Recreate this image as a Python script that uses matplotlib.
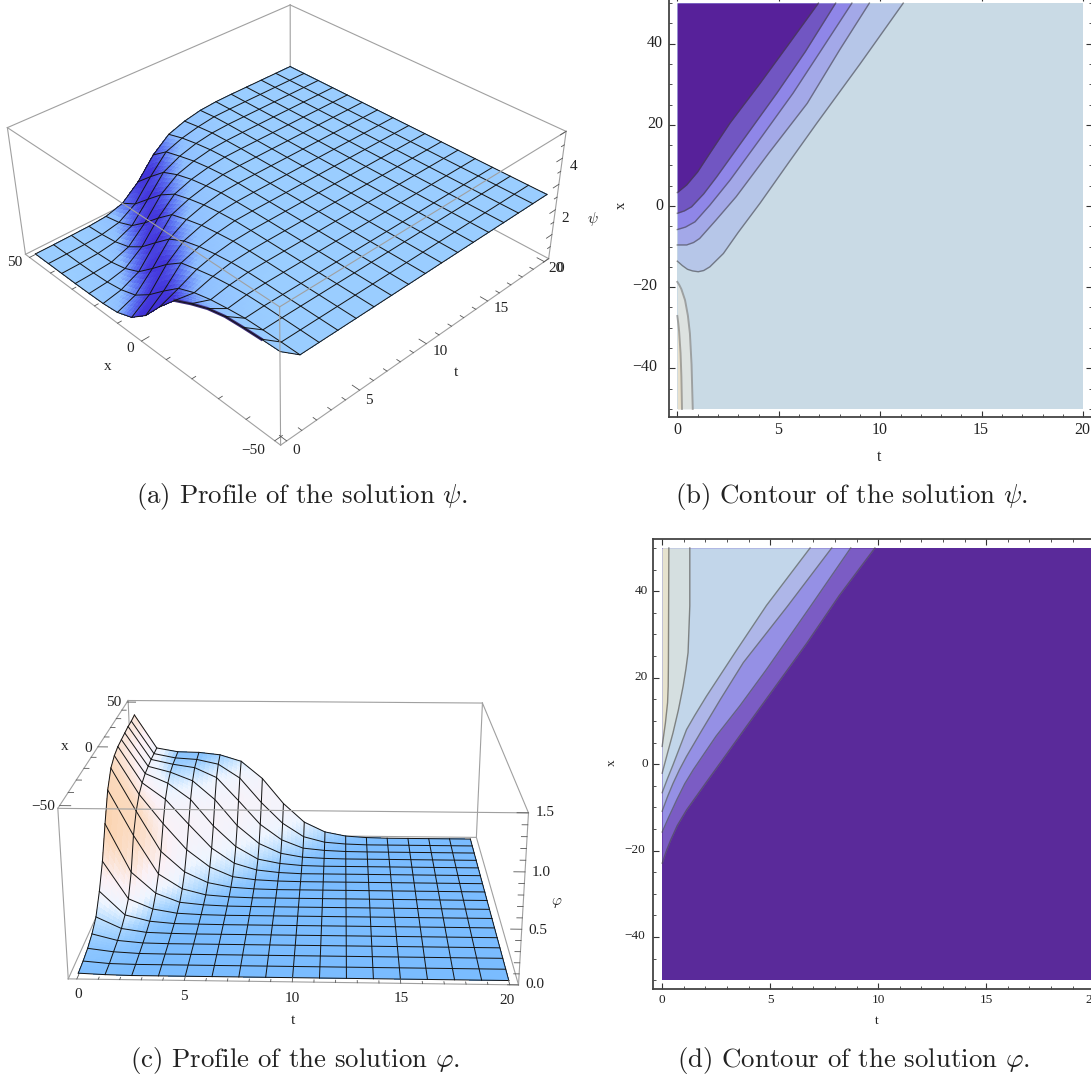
import numpy as np
import matplotlib
matplotlib.use("Agg")
import matplotlib.pyplot as plt
from matplotlib.colors import LinearSegmentedColormap

W, H = 1091, 1078
t_nodes = [1.25 * i for i in range(17)]
x_nodes = [-50 + 6.25 * i for i in range(17)]

psi_rows = [
 [3.05,3.03,3.0,2.95,2.8,2.55,2.25,1.6,.85,.35,.12,.05,.03,.02,.02,.02,.02],
 [2.5,2.5,2.49,2.47,2.39,2.29,2.13,1.88,1.37,.82,.39,.19,.09,.05,.03,.03,.02],
 [2.5,2.5,2.5,2.5,2.48,2.42,2.33,2.19,2.03,1.58,1.03,.51,.24,.1,.06,.04,.03],
 [2.5,2.5,2.5,2.5,2.5,2.49,2.45,2.37,2.26,2.09,1.78,1.26,.72,.34,.16,.08,.04],
 [2.5,2.5,2.5,2.5,2.5,2.5,2.49,2.47,2.4,2.31,2.16,1.98,1.48,.93,.45,.21,.09],
 [2.5,2.5,2.5,2.5,2.5,2.5,2.5,2.5,2.49,2.44,2.36,2.23,2.06,1.68,1.15,.61,.28],
 [2.5,2.5,2.5,2.5,2.5,2.5,2.5,2.5,2.5,2.49,2.47,2.39,2.29,2.13,1.88,1.37,.82],
 [2.5,2.5,2.5,2.5,2.5,2.5,2.5,2.5,2.5,2.5,2.5,2.48,2.42,2.33,2.19,2.03,1.58],
 [2.5,2.5,2.5,2.5,2.5,2.5,2.5,2.5,2.5,2.5,2.5,2.5,2.49,2.45,2.37,2.26,2.09],
 [2.5,2.5,2.5,2.5,2.5,2.5,2.5,2.5,2.5,2.5,2.5,2.5,2.5,2.49,2.47,2.4,2.31],
 [2.5,2.5,2.5,2.5,2.5,2.5,2.5,2.5,2.5,2.5,2.5,2.5,2.5,2.5,2.5,2.49,2.44],
 [2.5,2.5,2.5,2.5,2.5,2.5,2.5,2.5,2.5,2.5,2.5,2.5,2.5,2.5,2.5,2.5,2.49],
 [2.5]*17, [2.5]*17, [2.5]*17, [2.5]*17, [2.5]*17,
]
phi_rows = [
 [.02,.03,.05,.09,.16,.32,.53,.82,1.08,1.23,1.29,1.32,1.33,1.34,1.35,1.35,1.36],
 [.01,.01,.02,.03,.05,.09,.16,.34,.63,.8,.9,.95,.98,.99,1.0,1.0,1.0],
 [.005,.005,.007,.009,.015,.03,.06,.13,.24,.39,.6,.78,.88,.93,.95,.955,.96],
 [.005,.005,.005,.005,.008,.01,.02,.04,.09,.18,.33,.52,.71,.84,.915,.94,.955],
 [.005,.005,.005,.005,.005,.007,.009,.017,.03,.07,.15,.27,.43,.64,.81,.89,.93],
 [.005,.005,.005,.005,.005,.005,.005,.007,.012,.025,.05,.11,.21,.36,.56,.74,.86],
 [.005,.005,.005,.005,.005,.005,.005,.005,.005,.01,.02,.04,.075,.165,.3,.47,.67],
 [.005,.005,.005,.005,.005,.005,.005,.005,.005,.005,.009,.015,.03,.06,.13,.24,.39],
 [.005,.005,.005,.005,.005,.005,.005,.005,.005,.005,.005,.005,.01,.02,.04,.09,.18],
 [.005,.005,.005,.005,.005,.005,.005,.005,.005,.005,.005,.005,.005,.009,.017,.03,.07],
 [.005,.005,.005,.005,.005,.005,.005,.005,.005,.005,.005,.005,.005,.005,.007,.012,.025],
 [.005]*16 + [.01],
 [.005]*17, [.005]*17, [.005]*17, [.005]*17, [.005]*17,
]

# contour curves of panel (b): (t, x)
b_c1_t = [0,.46,1,1.6,2.6,4.07,5.5,6.95];            b_c1_x = [3.3,5.2,8.4,13,20.5,30.2,40,50]
b_c2_t = [0,.35,.7,1.3,1.94,3.2,4.9,6.3,7.8];        b_c2_x = [-1.8,-1.2,-.2,3,7.2,16,27.8,38,50]
b_c3_t = [0,.4,.87,1.6,2.6,4,5.7,7.1,8.6];           b_c3_x = [-5.8,-5.2,-3.9,.2,6.4,16,27.8,38.5,50]
b_c4_t = [0,.46,.8,1.1,1.9,2.9,4.5,6.4,8,9.46];      b_c4_x = [-9.6,-9.6,-9,-8,-3.5,2.3,13,25.3,38.5,50]
b_c5_t = [0,.25,.5,.75,1.03,1.3,1.6,2.27,3,4.07,5.5,6.87,9,11.13]
b_c5_x = [-13.6,-14.7,-15.6,-16,-16.2,-15.9,-15,-11.7,-6.5,.66,10.8,20.4,35,50]
b_c6_t = [0,.1,.2,.38,.52,.62,.7,.76];               b_c6_x = [-18.7,-19.5,-20.5,-23.2,-27,-31.4,-39,-50]
b_c7_t = [0,.05,.09,.16,.2,.23];                     b_c7_x = [-27.1,-29,-31,-36.3,-42,-50]
# contour curves of panel (d): (t, x)
d_a_t = [0,.08,.15,.25,.28,.29,.31];                 d_a_x = [4.1,7,9.5,14.2,18,23.5,50]
d_b_t = [0,.25,.5,.75,.97,1.1,1.2,1.28,1.28];        d_b_x = [-2.1,2.6,7.2,12.5,18,22,25.8,36.6,50]
d_c_t = [0,.25,.5,.8,1.13,1.5,2.05,3.4,4.83,6.85];   d_c_x = [-6.6,-3.3,-.2,3.7,8,11.2,15.7,26,36.7,50]
d_d_t = [0,.25,.5,.8,1.13,1.8,2.7,3.76,5.8,7.85];    d_d_x = [-10.9,-7.5,-4.5,-1.3,1.8,7.5,15,23.5,36.5,50]
d_e_t = [0,.3,.7,1.05,1.44,2.5,3.6,4.83,6.8,8.73];   d_e_x = [-15.7,-12.3,-8,-4.5,-1.3,6.5,13.5,21.9,36,50]
d_f_t = [0,.2,.4,.7,1.13,2,3.9,6.7,8.2,9.85];        d_f_x = [-22.9,-20,-17.5,-14.2,-10.6,-4.5,8.7,28,39,50]

plt.rcParams['mathtext.fontset'] = 'cm'
fig = plt.figure(figsize=(W/100, H/100), dpi=100)
fig.patch.set_facecolor('white')

def rect(l, t, r, b):
    return [l/W, 1-b/H, (r-l)/W, (b-t)/H]

def label(x, y, s, size=11, rot=0, fam='Liberation Serif', **kw):
    fig.text(x/W, 1-y/H, s, fontsize=size, rotation=rot, family=fam,
             ha='center', va='center', color='#222222', **kw)

def setup(ax, p):
    el, az, ro, f, ay, az_, cx, cy, s = p
    ax.set_position(rect(cx-s/2, cy-s/2, cx+s/2, cy+s/2))
    ax.view_init(el, az, ro)
    ax.set_proj_type('persp', focal_length=f)
    ax.set_box_aspect((1, ay, az_))

def refine(A, n=5):
    A = np.asarray(A, float)
    u = np.linspace(0, A.shape[0]-1, (A.shape[0]-1)*n+1)
    v = np.linspace(0, A.shape[1]-1, (A.shape[1]-1)*n+1)
    B = np.array([np.interp(u, np.arange(A.shape[0]), A[:, j]) for j in range(A.shape[1])]).T
    return np.array([np.interp(v, np.arange(A.shape[1]), r) for r in B])

def box_edges(ax, tl, xl, zl, under):
    t0, t1 = tl; x0, x1 = xl; z0, z1 = zl
    c = {(a,b,d): (t1 if a else t0, x1 if b else x0, z1 if d else z0) for a in (0,1) for b in (0,1) for d in (0,1)}
    edges = []
    for a in (0,1):
        for b in (0,1):
            edges += [((a,b,0),(a,b,1)), ((a,0,b),(a,1,b)), ((0,a,b),(1,a,b))]
    for e in edges:
        zo = 1 if e in under else 6
        P, Q = c[e[0]], c[e[1]]
        ax.plot3D([P[0],Q[0]],[P[1],Q[1]],[P[2],Q[2]], color='#a0a0a0', lw=.8, zorder=zo, clip_on=False)

def surface(ax, Z, cmap, slope, vmax):
    T, X = np.meshgrid(t_nodes, x_nodes, indexing='ij')
    Tf, Xf, Zf, Sf = refine(T), refine(X), refine(Z), refine(slope)
    cols = cmap(np.clip(Sf/vmax, 0, 1))
    ax.plot_surface(Tf, Xf, Zf, facecolors=cols, rstride=1, cstride=1,
                    shade=False, linewidth=0, antialiased=False, zorder=3)
    Z = np.asarray(Z)
    for i in range(17):
        ax.plot3D(t_nodes, [x_nodes[i]]*17, Z[:, i], color='#151515', lw=.72, zorder=5, clip_on=False)
        ax.plot3D([t_nodes[i]]*17, x_nodes, Z[i, :], color='#151515', lw=.72, zorder=5, clip_on=False)

def ticks3d(ax, base, dirv, vals, axis, ln):
    for v in vals:
        P = list(base); P[axis] = v
        Q = [P[k] + dirv[k]*ln for k in range(3)]
        ax.plot3D([P[0],Q[0]],[P[1],Q[1]],[P[2],Q[2]], color='#555555', lw=.6, zorder=7, clip_on=False)

# ---- panel (a)
tb = (-.4, 20.4); xb = (-52, 52)
axa = fig.add_axes(rect(0,0,600,600), projection='3d', computed_zorder=False)
axa.set_axis_off()
axa.set_xlim(*tb, view_margin=0); axa.set_ylim(*xb, view_margin=0); axa.set_zlim(0, 5, view_margin=0)
setup(axa, [34.387,-133.882,0.187,0.447,0.999,0.402,278.672,202.441,545.451])
Z = np.array(psi_rows)*1.04
slope_a = np.abs(np.gradient(Z, 6.25, axis=1))
cm_a = LinearSegmentedColormap.from_list('a', ['#9ACDFF','#8FBFFF','#5F78F2','#4438DD','#4030D5'])
surface(axa, Z, cm_a, slope_a, .11)
axa.plot3D([0]*6, x_nodes[1:7], Z[0,1:7], color='#3B2A78', lw=2.2, zorder=4, clip_on=False)
box_edges(axa, tb, xb, (0,5), [((1,1,0),(1,1,1)),((0,1,0),(1,1,0)),((1,0,0),(1,1,0))])
ticks3d(axa, (tb[0],0,0),(1,0,0), [-50,0,50], 1, .5)
ticks3d(axa, (tb[0],0,0),(1,0,0), [-40,-30,-20,-10,10,20,30,40], 1, .25)
ticks3d(axa, (0,xb[0],0),(0,1,0), [0,5,10,15,20], 0, 2.5)
ticks3d(axa, (0,xb[0],0),(0,1,0), [1,2,3,4,6,7,8,9,11,12,13,14,16,17,18,19], 0, 1.2)
ticks3d(axa, (tb[1],xb[0],0),(-1,0,0), [0,1,2,3,4,5], 2, .5)
ticks3d(axa, (tb[1],xb[0],0),(-1,0,0), [.5,1.5,2.5,3.5,4.5], 2, .25)

# ---- panel (c)
axc = fig.add_axes(rect(0,500,600,1100), projection='3d', computed_zorder=False)
axc.set_axis_off()
axc.set_xlim(*tb, view_margin=0); axc.set_ylim(*xb, view_margin=0); axc.set_zlim(0, 1.5, view_margin=0)
setup(axc, [18.753,-88.217,0.006,0.440,0.987,0.400,291.558,832.699,562.658])
Z2 = np.array(phi_rows)
slope_c = np.abs(np.gradient(Z2, 1.25, axis=0))
cm_c = LinearSegmentedColormap.from_list('c', [(0,'#7ABCFF'),(.15,'#B8DDFF'),(.3,'#EEF5FF'),(.5,'#FBF1F6'),(.75,'#FBD9BC'),(1,'#F8C99C')])
surface(axc, Z2, cm_c, slope_c, .46)
box_edges(axc, tb, xb, (0,1.5), [((0,1,0),(0,1,1)),((0,1,0),(1,1,0)),((0,0,0),(0,1,0))])
ticks3d(axc, (0,xb[0],0),(0,1,0), [0,5,10,15,20], 0, 2.5)
ticks3d(axc, (0,xb[0],0),(0,1,0), [1,2,3,4,6,7,8,9,11,12,13,14,16,17,18,19], 0, 1.2)
ticks3d(axc, (tb[0],0,1.5),(1,0,0), [-50,0,50], 1, .5)
ticks3d(axc, (tb[0],0,1.5),(1,0,0), [-40,-30,-20,-10,10,20,30,40], 1, .25)
ticks3d(axc, (tb[1],xb[0],0),(-1,0,0), [0,.5,1,1.5], 2, .5)
ticks3d(axc, (tb[1],xb[0],0),(-1,0,0), [.1,.2,.3,.4,.6,.7,.8,.9,1.1,1.2,1.3,1.4], 2, .25)

# ---- contour panels
def contour_axes(r):
    ax = fig.add_axes(rect(*r))
    ax.set_xlim(-.41, 20.41); ax.set_ylim(-52, 52)
    ax.set_xticks([0,5,10,15,20]); ax.set_yticks([-40,-20,0,20,40])
    ax.set_xticks(range(1,20), minor=True); ax.set_yticks(range(-50,51,5), minor=True)
    ax.set_xticklabels([]); ax.set_yticklabels([])
    ax.tick_params(which='major', direction='in', length=4, width=.8, top=True, right=True, color='#333333')
    ax.tick_params(which='minor', direction='in', length=2.2, width=.6, top=True, right=True, color='#333333')
    for s in ax.spines.values():
        s.set_color('#444444'); s.set_linewidth(1.3)
    return ax

def band(ax, t, x, to, col, lc='#44444499', lw=1.0):
    ax.fill_between(t, x, to, color=col, lw=0, zorder=2)
    ax.plot(t, x, color=lc, lw=lw, zorder=3)

axb = contour_axes((669,-5,1091.6,417))
axb.fill_between([0,20], -50, 50, color='#C9DAE5', lw=0, zorder=1)
for (t,x),col in zip([(b_c5_t,b_c5_x),(b_c4_t,b_c4_x),(b_c3_t,b_c3_x),(b_c2_t,b_c2_x),(b_c1_t,b_c1_x)],
                     ['#B6C6E8','#A3A8E8','#8F86E8','#7156C2','#57219A']):
    band(axb, t, x, 50, col)
band(axb, b_c6_t, b_c6_x, -50, '#DDE2E0', lc='#77777799', lw=1.4)
band(axb, b_c7_t, b_c7_x, -50, '#E8E0CC', lc='#77777799', lw=1.4)

axd = contour_axes((653.3,539.3,1103,989))
axd.fill_between([0,20], -50, 50, color='#5A2A9A', lw=0, zorder=1)
for (t,x),col in zip([(d_f_t,d_f_x),(d_e_t,d_e_x),(d_d_t,d_d_x),(d_c_t,d_c_x),(d_b_t,d_b_x),(d_a_t,d_a_x)],
                     ['#7B5CC4','#9590E5','#AEB6E8','#C2D6EA','#D5DFE0','#E6E2CE']):
    band(axd, t, x, 50, col)

# ---- texts
M = '\u2212'
for (x,y,s) in [(15,263,'50'),(130,348,'0'),(108,367,'x'),(253,451,M+'50'),(296,451,'0'),(369,400,'5'),
                (440,352,'10'),(456,372,'t'),(501,309,'15'),(556,269,'20'),(560,268,'0'),(565,218,'2'),(574,167,'4')]:
    label(x,y,s,11)
label(593,219,r'$\psi$',11)
for (x,y,s) in [(114,702,'50'),(65,747,'x'),(88,748,'0'),(43,807,M+'50'),(78,995,'0'),(184,996,'5'),(292,998,'10'),
                (401,998,'15'),(507,1000,'20'),(293,1021,'t'),(535,985,'0.0'),(538,930,'0.5'),(541,873,'1.0'),(545,813,'1.5')]:
    label(x,y,s,11)
label(557,903,r'$\varphi$',11)
for (x,y,s) in [(655,43,'40'),(655,124,'20'),(659,206,'0'),(645,286,M+'20'),(645,367,M+'40'),(677,430,'0'),(778,430,'5'),
                (880,430,'10'),(981,430,'15'),(1082,430,'20'),(879,457,'t')]:
    label(x,y,s,11.5)
label(621,205,'x',10.5,rot=90)
for (x,y,s) in [(641,591,'40'),(641,677,'20'),(645,764,'0'),(635,850,M+'20'),(635,936,M+'40'),(662,1000,'0'),(770,1000,'5'),
                (878,1000,'10'),(986,1000,'15'),(1092,1000,'20'),(877,1021,'t')]:
    label(x,y,s,9.5)
label(612,763,'x',9.5,rot=90)
for (x,y,s) in [(302,496,r'(a) Profile of the solution $\psi$.'),(851,496,r'(b) Contour of the solution $\psi$.'),
                (295,1060,r'(c) Profile of the solution $\varphi$.'),(854,1060,r'(d) Contour of the solution $\varphi$.')]:
    label(x,y,s,19.3,fam='cmr10')

fig.savefig('out.png', dpi=100)
